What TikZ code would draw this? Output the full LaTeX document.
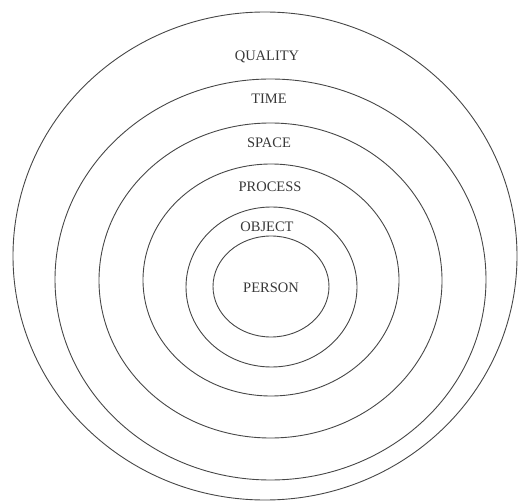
\documentclass[tikz,border=0pt]{standalone}
\usepackage{fontspec}
\setmainfont{Liberation Serif}
\begin{document}
\begin{tikzpicture}[x=1pt,y=-1pt,
  ring/.style={draw=black!72,line width=0.9pt},
  lab/.style={text=black!78,font=\fontsize{14.5}{16}\selectfont,inner sep=0pt}]
\useasboundingbox (0,0) rectangle (519,502);
\draw[ring] (265,256) ellipse [x radius=252, y radius=244];
\draw[ring] (270.5,279.5) ellipse [x radius=215.5, y radius=200.5];
\draw[ring] (270.5,280.5) ellipse [x radius=171.5, y radius=157.5];
\draw[ring] (271,280) ellipse [x radius=128, y radius=116];
\draw[ring] (271.5,287) ellipse [x radius=85.5, y radius=80];
\draw[ring] (271,286.5) ellipse [x radius=58, y radius=50.5];
\node[lab] (quality) at (267,57) {QUALITY};
\node[lab] (time) at (269,99) {TIME};
\node[lab] (space) at (269,143) {SPACE};
\node[lab] (process) at (270,187) {PROCESS};
\node[lab] (object) at (267,227) {OBJECT};
\node[lab] (person) at (271,288) {PERSON};
\end{tikzpicture}
\end{document}
